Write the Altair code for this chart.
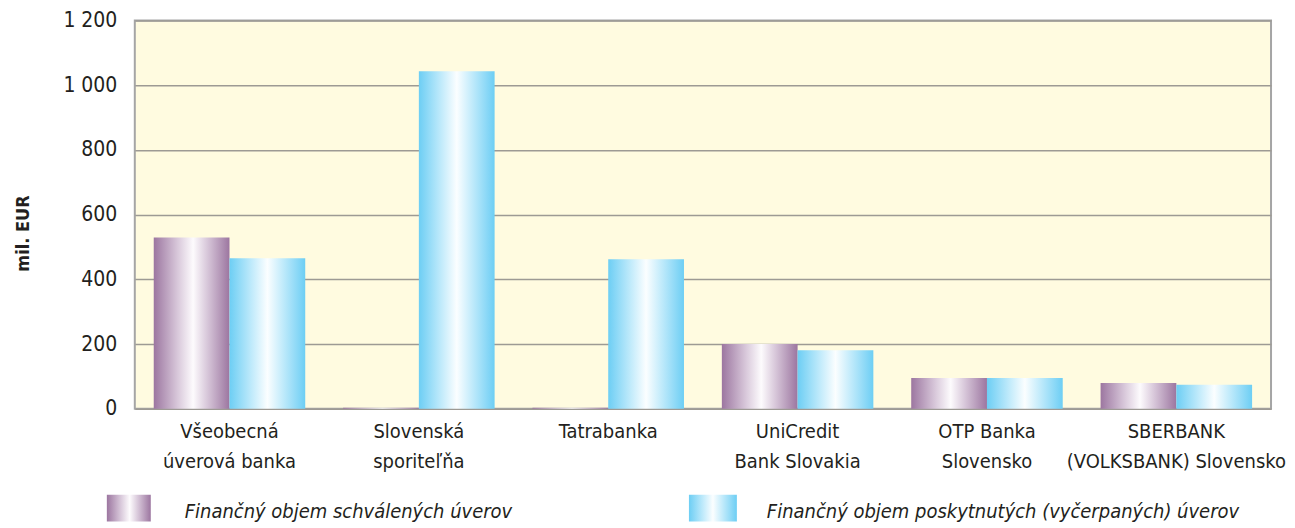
import altair as alt
import pandas as pd

banks = [
    "Všeobecná|úverová banka",
    "Slovenská|sporiteľňa",
    "Tatrabanka",
    "UniCredit|Bank Slovakia",
    "OTP Banka|Slovensko",
    "SBERBANK|(VOLKSBANK) Slovensko",
]
series = [
    "Finančný objem schválených úverov",
    "Finančný objem poskytnutých (vyčerpaných) úverov",
]
approved = [529, 3, 3, 200, 95, 80]
provided = [465, 1043, 462, 181, 95, 74]

rows = []
for b, a, p in zip(banks, approved, provided):
    rows.append({"bank": b, "series": series[0], "value": a})
    rows.append({"bank": b, "series": series[1], "value": p})
df = pd.DataFrame(rows)
leg = pd.DataFrame({"series": series})

FONT = "Liberation Sans Narrow, DejaVu Sans Condensed, Roboto, sans-serif"

purple = alt.Gradient(
    gradient="linear", x1=0, x2=1, y1=0, y2=0,
    stops=[alt.GradientStop(color="#9c76a0", offset=0),
           alt.GradientStop(color="#d9c9db", offset=0.32),
           alt.GradientStop(color="#fdfbfd", offset=0.52),
           alt.GradientStop(color="#d9c9db", offset=0.7),
           alt.GradientStop(color="#9c76a0", offset=1)],
)
blue = alt.Gradient(
    gradient="linear", x1=0, x2=1, y1=0, y2=0,
    stops=[alt.GradientStop(color="#6dcef4", offset=0),
           alt.GradientStop(color="#c2ebfb", offset=0.3),
           alt.GradientStop(color="#fbfeff", offset=0.5),
           alt.GradientStop(color="#c2ebfb", offset=0.7),
           alt.GradientStop(color="#6dcef4", offset=1)],
)

x_enc = alt.X(
    "bank:N", sort=banks, title=None,
    scale=alt.Scale(paddingInner=0.2, paddingOuter=0.1),
    axis=alt.Axis(labelExpr="split(datum.label, '|')", labelAngle=0,
                  labelFontSize=20, labelFont=FONT, labelColor="#231f20",
                  labelPadding=13, labelLineHeight=30, ticks=False,
                  domain=False, labelBaseline="top", labelLimit=0),
)
xo_enc = alt.XOffset("series:N", sort=series, scale=alt.Scale(paddingInner=0, paddingOuter=0))
y_enc = alt.Y(
    "value:Q", title="mil. EUR",
    scale=alt.Scale(domain=[0, 1200], nice=False),
    axis=alt.Axis(values=[0, 200, 400, 600, 800, 1000, 1200],
                  labelExpr="replace(format(datum.value, ','), ',', ' ')",
                  labelFontSize=21, labelFont=FONT, labelColor="#231f20",
                  labelPadding=18, ticks=False, domain=False,
                  grid=True, gridColor="#9d9a94", gridWidth=1.5,
                  titleFont=FONT, titleFontSize=18, titleFontWeight="bold",
                  titleColor="#231f20", titlePadding=30, titleY=213),
)

base = alt.Chart(df).encode(x=x_enc, xOffset=xo_enc, y=y_enc)
bars1 = base.transform_filter(alt.datum.series == series[0]).mark_bar(color=purple)
bars2 = base.transform_filter(alt.datum.series == series[1]).mark_bar(color=blue)
main = alt.layer(bars1, bars2).properties(
    width=1138, height=389,
    view=alt.ViewBackground(fill="#fffbe0", stroke="#a5a5a5", strokeWidth=2),
)

lx = alt.X("series:N", sort=series, axis=None,
           scale=alt.Scale(type="point", padding=0, domain=series))
lbase = alt.Chart(leg).encode(x=lx)
sw1 = lbase.transform_filter(alt.datum.series == series[0]).mark_rect(
    color=purple, width=44, xOffset=-6)
sw2 = lbase.transform_filter(alt.datum.series == series[1]).mark_rect(
    color=blue, width=48, xOffset=-4)
txt = lbase.mark_text(align="left", dx=50, dy=4, fontSize=20, font=FONT,
                      fontStyle="italic", color="#231f20").encode(text="series:N")
legend = alt.layer(sw1, sw2, txt).properties(
    width=583, height=27,
    view=alt.ViewBackground(fill="transparent", stroke="transparent", strokeWidth=0),
)

chart = alt.vconcat(main, legend, spacing=86, bounds="flush").properties(
    padding={"left": 5, "top": 0, "right": 0, "bottom": 0}
)

chart.save("out.html", embed_options={"renderer": "svg", "actions": False})
